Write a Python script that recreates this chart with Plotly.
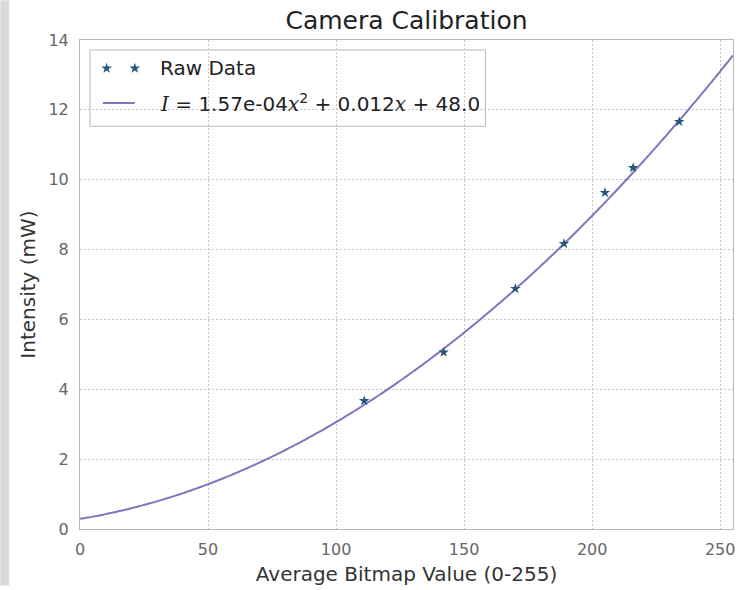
import numpy as np
import plotly.graph_objects as go

# Measured calibration points: mean bitmap value vs. optical power
bitmap_values = [111, 142, 170, 189, 205, 216, 234]
intensity_mw = [3.67, 5.06, 6.88, 8.17, 9.63, 10.34, 11.66]

# Quadratic calibration fit I = a*x^2 + b*x + c
fit_a = 1.57e-4
fit_b = 0.012
fit_c = 0.29
fit_label_const = "48.0"

x_ticks = [0, 50, 100, 150, 200, 250]
y_ticks = [0, 2, 4, 6, 8, 10, 12, 14]

W, H = 744, 590
M_L, M_R, M_T, M_B = 80, 9, 40, 57
PW, PH = W - M_L - M_R, H - M_T - M_B

FONT = "DejaVu Sans"
MARKER_COLOR = "#24587a"
LINE_COLOR = "#8474c0"
GRID_COLOR = "#c4c4c4"
FRAME_COLOR = "#b8b8b8"


def fx(px):
    """Pixel column -> fraction of plot width."""
    return (px - M_L) / PW


def fy(py):
    """Pixel row -> fraction of plot height."""
    return (H - M_B - py) / PH


x_fit = np.linspace(0, 255, 256)
y_fit = fit_a * x_fit ** 2 + fit_b * x_fit + fit_c

fig = go.Figure()

fig.add_trace(go.Scatter(
    x=x_fit, y=y_fit, mode="lines",
    line=dict(color=LINE_COLOR, width=2, simplify=False),
    showlegend=False, hoverinfo="skip",
))
fig.add_trace(go.Scatter(
    x=bitmap_values, y=intensity_mw, mode="markers",
    marker=dict(symbol="star", size=8, color=MARKER_COLOR,
                line=dict(width=0)),
    showlegend=False,
))

# Hand-drawn legend on an overlay axis in plot-fraction units
fig.add_trace(go.Scatter(
    x=[fx(106.7), fx(135)], y=[fy(68.5), fy(68.5)], mode="markers",
    marker=dict(symbol="star", size=8, color=MARKER_COLOR),
    xaxis="x2", yaxis="y2", showlegend=False, hoverinfo="skip",
))
fig.add_trace(go.Scatter(
    x=[fx(103), fx(135)], y=[fy(103.5), fy(103.5)], mode="lines",
    line=dict(color=LINE_COLOR, width=2),
    xaxis="x2", yaxis="y2", showlegend=False, hoverinfo="skip",
))

serif_i = '<span style="font-family:\'DejaVu Serif\'"><i>{}</i></span>'
eq_text = (
    serif_i.format("I") + " = " + f"{fit_a:.2e}" + serif_i.format("x")
    + "<sup>2</sup> + " + f"{fit_b:.3f}" + serif_i.format("x")
    + " + " + fit_label_const
)

fig.add_annotation(x=fx(158), y=fy(68.5), xref="x2", yref="y2",
                   text="Raw Data", showarrow=False, xanchor="left",
                   yanchor="middle", font=dict(family=FONT, size=20, color="#222"))
fig.add_annotation(x=fx(158), y=fy(103.5), xref="x2", yref="y2",
                   text=eq_text, showarrow=False, xanchor="left",
                   yanchor="middle", font=dict(family=FONT, size=20, color="#222"))

shapes = [
    # legend frame
    dict(type="rect", xref="x2", yref="y2",
         x0=fx(90), x1=fx(486.7), y0=fy(127), y1=fy(50),
         line=dict(color=FRAME_COLOR, width=1), fillcolor="white", layer="below"),
    # grey strip along the left edge of the page
    dict(type="rect", xref="paper", yref="paper",
         x0=fx(0), x1=fx(9), y0=fy(H), y1=fy(0),
         line=dict(width=0), fillcolor="#dadada", layer="below"),
]

GRID_DASH = "1.5px,2.5px"

fig.update_layout(
    width=W, height=H,
    margin=dict(l=M_L, r=M_R, t=M_T, b=M_B, pad=0),
    paper_bgcolor="white", plot_bgcolor="white",
    font=dict(family=FONT, color="#333"),
    title=dict(text="Camera Calibration", x=0.5, xref="paper",
               y=1 - 20 / H, yanchor="middle", xanchor="center",
               font=dict(family=FONT, size=25, color="#222")),
    xaxis=dict(range=[0, 255], tickvals=x_ticks, ticks="",
               showgrid=True, gridcolor=GRID_COLOR, griddash=GRID_DASH, gridwidth=1,
               showline=True, linecolor=FRAME_COLOR, linewidth=1, mirror=True,
               zeroline=False, tickfont=dict(size=16, color="#666"),
               ticklabelstandoff=6,
               title=dict(text="Average Bitmap Value (0-255)", standoff=8,
                          font=dict(size=20, color="#333"))),
    yaxis=dict(range=[0, 14], tickvals=y_ticks, ticks="",
               showgrid=True, gridcolor=GRID_COLOR, griddash=GRID_DASH, gridwidth=1,
               showline=True, linecolor=FRAME_COLOR, linewidth=1, mirror=True,
               zeroline=False, tickfont=dict(size=16, color="#666"),
               ticklabelstandoff=7,
               title=dict(text="Intensity (mW)", standoff=7,
                          font=dict(size=20, color="#333"))),
    xaxis2=dict(range=[0, 1], overlaying="x", visible=False, fixedrange=True),
    yaxis2=dict(range=[0, 1], overlaying="y", visible=False, fixedrange=True),
    shapes=shapes,
    showlegend=False,
)

fig.write_html("out.html")
